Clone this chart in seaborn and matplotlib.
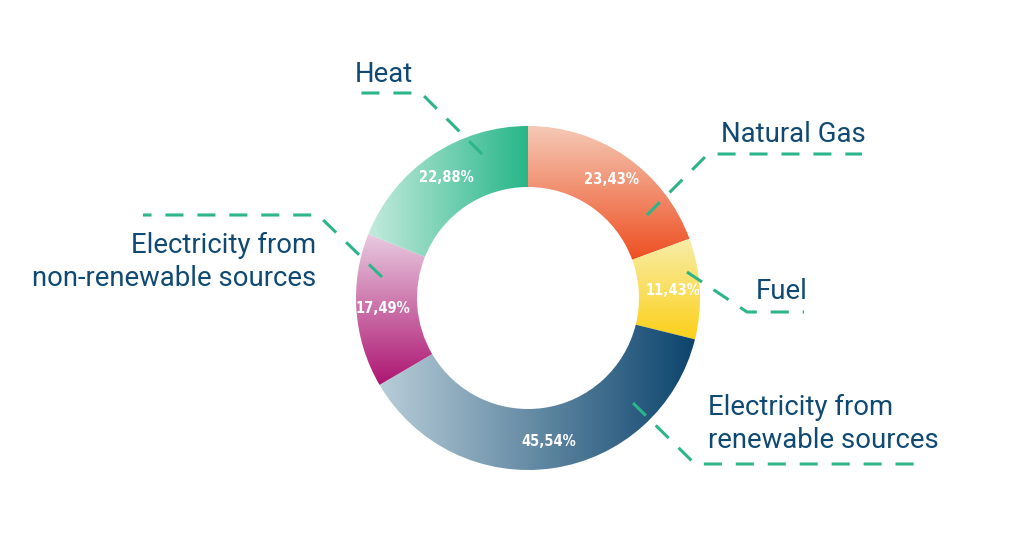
import numpy as np
import matplotlib
matplotlib.use("Agg")
import matplotlib.pyplot as plt
import seaborn as sns
from matplotlib.colors import LinearSegmentedColormap
from matplotlib import font_manager as fm

# ---- data ----
categories = ["Natural Gas", "Fuel", "Electricity from\nrenewable sources",
              "Electricity from\nnon-renewable sources", "Heat"]
values = [23.43, 11.43, 45.54, 17.49, 22.88]

# ---- styles ----
grad_colors = [("#f5c9b6", "#ee4f22"),
               ("#f7eda9", "#fdd01a"),
               ("#b8cdd8", "#0c446d"),
               ("#e8cbe0", "#ad1571"),
               ("#c4ebdd", "#26b688")]
grad_dir = ["v", "v", "h", "v", "h"]
TEXT = "#104a74"
LINE = "#2db58a"

sns.set_theme(style="white")
plt.rcParams["font.family"] = ["Roboto", "DejaVu Sans"]
plt.rcParams["lines.scale_dashes"] = False

W, H = 1026, 548
fig = plt.figure(figsize=(W / 100, H / 100), dpi=100)
ax = fig.add_axes([0, 0, 1, 1])
ax.set_xlim(0, W)
ax.set_ylim(0, H)
ax.axis("off")

cx, cy = 528, H - 298
R, r = 172, 111

wedges, _ = ax.pie(values, startangle=90, counterclock=False, radius=R,
                   center=(cx, cy), frame=True,
                   wedgeprops=dict(width=R - r, linewidth=0, edgecolor="none"))

pct_font = fm.FontProperties(family=["DejaVu Sans"], stretch="condensed",
                             weight="bold", size=10.5)

for i, w in enumerate(wedges):
    ext = w.get_path().get_extents()
    c0, c1 = grad_colors[i]
    cmap = LinearSegmentedColormap.from_list(f"g{i}", [c0, c1])
    if grad_dir[i] == "v":
        img = np.linspace(0, 1, 256).reshape(-1, 1)
    else:
        img = np.linspace(0, 1, 256).reshape(1, -1)
    im = ax.imshow(img, cmap=cmap, extent=[ext.x0, ext.x1, ext.y0, ext.y1],
                   origin="upper", aspect="auto", interpolation="bilinear", zorder=2)
    im.set_clip_path(w)
    w.set_facecolor("none")

    mid = np.deg2rad((w.theta1 + w.theta2) / 2)
    pr = 145
    ax.text(cx + pr * np.cos(mid), cy + pr * np.sin(mid),
            f"{values[i]:.2f}".replace(".", ",") + "%",
            ha="center", va="center", color="white", fontproperties=pct_font,
            zorder=5)

ax.set_xlim(0, W)
ax.set_ylim(0, H)
ax.set_aspect("equal")

# ---- leader lines & labels (layout in pixel coords, y from top) ----
layout = [
    ((647, 215), (708, 154), (862, 154), 721, 142, "left"),
    ((687, 272), (747, 312), (804, 312), 756, 299, "left"),
    ((633, 403), (695, 464), (924, 464), 708, 448, "left"),
    ((382, 277), (318, 215), (143, 215), 316, 286, "right"),
    ((482, 154), (421, 93), (354, 93), 355, 82, "left"),
]
for i, (p0, p1, p2, tx, ty, ha) in enumerate(layout):
    xs = [p0[0], p1[0], p2[0]]
    ys = [H - p0[1], H - p1[1], H - p2[1]]
    ax.plot(xs, ys, color=LINE, lw=2.2, linestyle=(0, (13, 10)), zorder=6,
            dash_capstyle="butt")
    ax.text(tx, H - ty, categories[i], ha=ha, va="baseline", color=TEXT,
            fontsize=19.8, linespacing=1.28, multialignment=ha, zorder=6)

fig.savefig("out.png", dpi=100, facecolor="white")
